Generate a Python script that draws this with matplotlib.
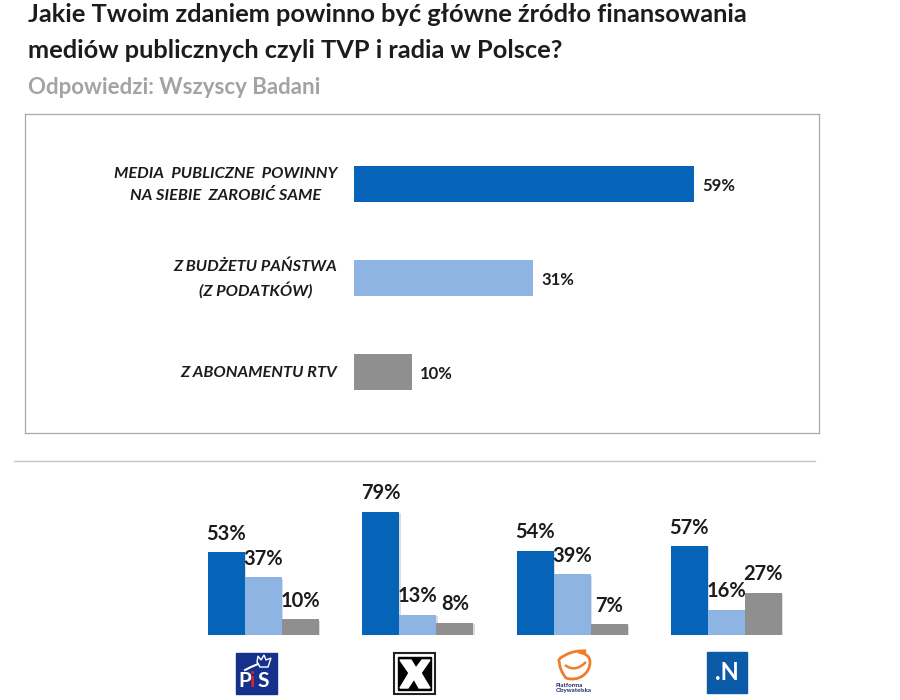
import matplotlib
matplotlib.use("Agg")
import matplotlib.pyplot as plt
import matplotlib.patheffects as pe
from matplotlib.patches import Rectangle, Polygon, PathPatch
from matplotlib.path import Path

plt.rcParams['font.family'] = ['Lato', 'DejaVu Sans']

TITLE_1 = "Jakie Twoim zdaniem powinno być główne źródło finansowania"
TITLE_2 = "mediów publicznych czyli TVP i radia w Polsce?"
SUBTITLE = "Odpowiedzi: Wszyscy Badani"

answers = ["MEDIA  PUBLICZNE  POWINNY\nNA SIEBIE  ZAROBIĆ SAME", "Z BUDŻETU PAŃSTWA\n(Z PODATKÓW)", "Z ABONAMENTU RTV"]
overall = [59, 31, 10]

parties = ["PiS", "Kukiz", "PO", "N"]
earn_self = [53, 79, 54, 57]
state_budget = [37, 13, 39, 16]
licence_fee = [10, 8, 7, 27]

BLUE = "#0563b8"
LIGHT = "#8eb4e3"
GRAY = "#8f8f8f"
TEXT = "#1c1c1c"
W, H = 900, 700


def px_axes(left, top, right, bottom):
    return fig.add_axes([left / W, 1 - bottom / H, (right - left) / W, (bottom - top) / H])


fig = plt.figure(figsize=(9, 7), dpi=100, facecolor="white")

# top panel
ax = px_axes(25, 114, 819, 433)
ax.set_xlim(-329 / 5.76, 465 / 5.76)
ax.set_ylim((433 - 183.5) / 94, (114 - 183.5) / 94)
ax.barh(range(3), overall, height=36 / 94, color=[BLUE, LIGHT, GRAY])
for i, (v, label) in enumerate(zip(overall, answers)):
    ax.text(v + 1.5, i + 0.03, f"{v}%", va="center", ha="left", fontsize=12, fontweight="bold", color=TEXT)
    ax.text(-2.9, i + 0.015, label, va="center", ha="right", multialignment="center", fontsize=11.8,
            fontweight="bold", style="italic", color=TEXT, linespacing=1.6)
ax.set_xticks([])
ax.set_yticks([])
for s in ax.spines.values():
    s.set_color("#a9a9a9")
    s.set_linewidth(0.9)

# party panel
ax2 = px_axes(0, 470, 900, 635)
ax2.set_xlim(-263.5 / 154.3, (900 - 263.5) / 154.3)
ax2.set_ylim(0, 165 / 1.56)
ax2.axis("off")
bw = 37 / 154.3
shadow = [pe.SimplePatchShadow(offset=(1, -1), shadow_rgbFace="#bbbbbb", alpha=0.5), pe.Normal()]
for offset, vals, col in zip([-bw, 0, bw], [earn_self, state_budget, licence_fee], [BLUE, LIGHT, GRAY]):
    for i, v in enumerate(vals):
        ax2.bar(i + offset, v, width=bw, color=col, path_effects=shadow)
        ax2.text(i + offset, v + 5.5, f"{v}%", ha="center", va="bottom", fontsize=14.5, fontweight="bold", color=TEXT)

# overlay in pixels for titles, separator and party logos
ov = px_axes(0, 0, 900, 700)
ov.set_xlim(0, 900)
ov.set_ylim(700, 0)
ov.axis("off")
ov.patch.set_alpha(0)

ov.text(28, 15, TITLE_1, fontsize=18.3, fontweight="bold", color=TEXT, va="center", ha="left")
ov.text(28, 51, TITLE_2, fontsize=18.3, fontweight="bold", color=TEXT, va="center", ha="left")
ov.text(28, 87, SUBTITLE, fontsize=16, fontweight="bold", color="#a3a3a3", va="center", ha="left")
ov.plot([14, 815], [461, 461], color="#c4c4c4", lw=1)

# PiS
ov.add_patch(Rectangle((236, 653), 41, 41, color="#15318c"))
ov.add_patch(Polygon([(257, 662), (258, 656), (261, 660), (264, 655), (266, 660), (271, 658), (268, 667), (260, 667)], fc="none", ec="white", lw=1))
ov.plot([245, 251, 258], [670, 667, 664], color="white", lw=1.5)
ov.text(245, 681, "P", color="white", fontsize=15, fontweight="bold", ha="center", va="center")
ov.text(253, 681, "i", color="#d8232a", fontsize=15, fontweight="bold", ha="center", va="center")
ov.text(263, 681, "S", color="white", fontsize=15, fontweight="bold", ha="center", va="center")

# Kukiz
ov.add_patch(Rectangle((394, 653), 41, 41, fc="white", ec="#222222", lw=1.5))
ov.add_patch(Rectangle((398, 657), 33, 33, color="black"))
ov.add_patch(Polygon([(400, 660), (411, 660), (416, 668), (422, 660), (430, 660), (421, 673), (430, 688),
                      (419, 688), (414, 679), (408, 688), (400, 688), (409, 673)], color="white"))

# Platforma
ring = Path([(559, 659), (566, 654), (574, 650), (586, 651), (571, 654), (590, 650), (590, 662), (590, 674),
             (578, 682), (566, 678), (558, 668), (559, 659), (559, 659)],
            [Path.MOVETO] + [Path.CURVE4] * 12)
ov.add_patch(PathPatch(ring, fc="none", ec="#f07c2c", lw=2))
smile = Path([(565, 665), (575, 673), (586, 662)], [Path.MOVETO, Path.CURVE3, Path.CURVE3])
ov.add_patch(PathPatch(smile, fc="none", ec="#f07c2c", lw=1.8))
ov.text(556, 688, "Platforma\nObywatelska", fontsize=4.4, fontweight="bold", color="#1b2a6b", va="center", ha="left", linespacing=1.0)

# Nowoczesna
ov.add_patch(Rectangle((707, 652), 40, 41, color="#0b5aa8"))
ov.text(727, 673, ".N", color="white", fontsize=17, fontweight="bold", ha="center", va="center")

fig.savefig("out.png", dpi=100)
